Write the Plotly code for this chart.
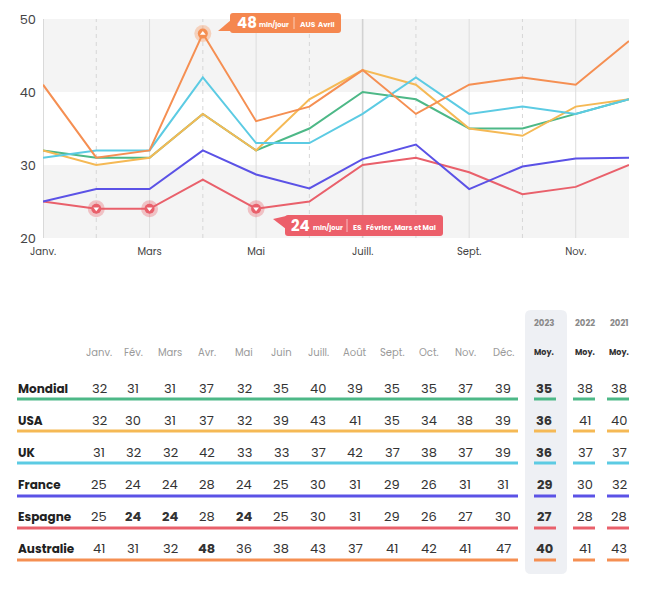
import plotly.graph_objects as go

W, H = 648, 592

# ---------------- data ----------------
months = ["Janv.", "Fév.", "Mars", "Avr.", "Mai", "Juin", "Juill.", "Août", "Sept.", "Oct.", "Nov.", "Déc."]
chart_ticks = [0, 2, 4, 6, 8, 10]
chart_tick_labels = ["Janv.", "Mars", "Mai", "Juill.", "Sept.", "Nov."]
y_ticks = [20, 30, 40, 50]

countries = ["Mondial", "USA", "UK", "France", "Espagne", "Australie"]
mondial = [32, 31, 31, 37, 32, 35, 40, 39, 35, 35, 37, 39]
usa = [32, 30, 31, 37, 32, 39, 43, 41, 35, 34, 38, 39]
uk = [31, 32, 32, 42, 33, 33, 37, 42, 37, 38, 37, 39]
france = [25, 24, 24, 28, 24, 25, 30, 31, 29, 26, 31, 31]
espagne = [25, 24, 24, 28, 24, 25, 30, 31, 29, 26, 27, 30]
australie = [41, 31, 32, 48, 36, 38, 43, 37, 41, 42, 41, 47]
# the chart's France line (as drawn, differs from the table row)
france_chart = [25, 26.7, 26.7, 32, 28.7, 26.8, 30.8, 32.8, 26.7, 29.8, 30.9, 31]

years = ["2023", "2022", "2021"]
moy_2023 = [35, 36, 36, 29, 27, 40]
moy_2022 = [38, 41, 37, 30, 28, 41]
moy_2021 = [38, 40, 37, 32, 28, 43]

colors = ["#4db887", "#f5b955", "#5ccbe3", "#5b52e6", "#e9606b", "#f58f52"]

FONT = "Poppins, 'Open Sans', sans-serif"

def px(x):
    return x / W

def py(y):
    return 1 - y / H

fig = go.Figure()

# ---------------- line chart ----------------
chart_series = [mondial, usa, uk, france_chart, espagne, australie]
order = [4, 3, 0, 1, 2, 5]
for i in order:
    fig.add_trace(go.Scatter(
        x=list(range(12)), y=chart_series[i], mode="lines",
        line=dict(color=colors[i], width=2), hoverinfo="skip", showlegend=False))

# highlighted points
es_idx = [1, 2, 4]
es_vals = [espagne[k] for k in es_idx]
fig.add_trace(go.Scatter(x=es_idx, y=es_vals, mode="markers",
                         marker=dict(size=17, color="rgba(233,96,107,0.35)"),
                         hoverinfo="skip", showlegend=False))
fig.add_trace(go.Scatter(x=es_idx, y=es_vals, mode="markers",
                         marker=dict(size=10, color="#e9606b"),
                         hoverinfo="skip", showlegend=False))
fig.add_trace(go.Scatter(x=es_idx, y=es_vals, mode="markers",
                         marker=dict(size=5, color="white", symbol="triangle-down"),
                         hoverinfo="skip", showlegend=False))
fig.add_trace(go.Scatter(x=[3], y=[australie[3]], mode="markers",
                         marker=dict(size=17, color="rgba(245,143,82,0.35)"),
                         hoverinfo="skip", showlegend=False))
fig.add_trace(go.Scatter(x=[3], y=[australie[3]], mode="markers",
                         marker=dict(size=10, color="#f58f52"),
                         hoverinfo="skip", showlegend=False))
fig.add_trace(go.Scatter(x=[3], y=[australie[3]], mode="markers",
                         marker=dict(size=5, color="white", symbol="triangle-up"),
                         hoverinfo="skip", showlegend=False))

shapes = []
# background bands
for (a, b) in [(40, 50), (20, 30)]:
    shapes.append(dict(type="rect", xref="x", yref="y", x0=0, x1=11, y0=a, y1=b,
                       fillcolor="#f4f4f4", line=dict(width=0), layer="below"))
# vertical grid lines
for k in range(11):
    if k % 2 == 0:
        strong = k in (0, 6)
        shapes.append(dict(type="line", xref="x", yref="y", x0=k, x1=k, y0=20, y1=50,
                           line=dict(color="#d2d2d2" if strong else "#dddddd",
                                     width=1.6 if strong else 1), layer="below"))
    else:
        shapes.append(dict(type="line", xref="x", yref="y", x0=k, x1=k, y0=20, y1=50,
                           line=dict(color="#d6d6d6", width=1, dash="4px,4px"), layer="below"))


def rrect(x0, y0, x1, y1, r):
    pts = [
        f"M{px(x0 + r)},{py(y0)}", f"L{px(x1 - r)},{py(y0)}",
        f"Q{px(x1)},{py(y0)} {px(x1)},{py(y0 + r)}", f"L{px(x1)},{py(y1 - r)}",
        f"Q{px(x1)},{py(y1)} {px(x1 - r)},{py(y1)}", f"L{px(x0 + r)},{py(y1)}",
        f"Q{px(x0)},{py(y1)} {px(x0)},{py(y1 - r)}", f"L{px(x0)},{py(y0 + r)}",
        f"Q{px(x0)},{py(y0)} {px(x0 + r)},{py(y0)}", "Z"]
    return " ".join(pts)


def poly(points):
    s = "M" + " L".join(f"{px(a)},{py(b)}" for a, b in points) + " Z"
    return s

# callout boxes
ORANGE = "#f5874f"
RED = "#ec5f6a"
shapes.append(dict(type="path", xref="paper", yref="paper", path=rrect(230, 13, 341, 33, 3),
                   fillcolor=ORANGE, line=dict(width=0)))
shapes.append(dict(type="path", xref="paper", yref="paper", path=poly([(231, 20), (218, 31), (231, 31)]),
                   fillcolor=ORANGE, line=dict(width=0)))
shapes.append(dict(type="line", xref="paper", yref="paper", x0=px(294), x1=px(294), y0=py(17), y1=py(29),
                   line=dict(color="rgba(255,255,255,0.6)", width=1)))

shapes.append(dict(type="path", xref="paper", yref="paper", path=rrect(285, 215, 443, 236, 3),
                   fillcolor=RED, line=dict(width=0)))
shapes.append(dict(type="path", xref="paper", yref="paper", path=poly([(286, 216), (273, 219), (286, 229)]),
                   fillcolor=RED, line=dict(width=0)))
shapes.append(dict(type="line", xref="paper", yref="paper", x0=px(347), x1=px(347), y0=py(219), y1=py(232),
                   line=dict(color="rgba(255,255,255,0.6)", width=1)))

annotations = []


def txt(x, y, text, size, color, anchor="left", bold=False):
    t = f"<b>{text}</b>" if bold else text
    annotations.append(dict(xref="paper", yref="paper", x=px(x), y=py(y), xanchor=anchor, yanchor="middle",
                            showarrow=False, text=t, font=dict(family=FONT, size=size, color=color)))


txt(235, 23, "48", 15, "white", bold=True)
txt(257, 24.5, "min/jour", 6.6, "white", bold=True)
txt(298, 24.5, "AUS", 7.5, "white", bold=True)
txt(316, 24.5, "Avril", 7, "white", bold=True)

txt(289, 225.5, "24", 15, "white", bold=True)
txt(311, 227, "min/jour", 6.6, "white", bold=True)
txt(351, 227, "ES", 7.5, "white", bold=True)
txt(364, 227, "Février, Mars et Mai", 7, "white", bold=True)

# ---------------- table ----------------
month_x = [99, 133, 170, 207, 244, 281, 318, 355, 392, 429, 465, 503]
avg_x = [544, 585, 619]
row_y = [388, 420, 452, 484, 516, 548]
line_y = [399, 431, 463, 496, 528, 560]

# 2023 column background
shapes.append(dict(type="path", xref="paper", yref="paper", path=rrect(525, 310, 567, 574, 6),
                   fillcolor="#eef0f4", line=dict(width=0), layer="below"))

for j, yr in enumerate(years):
    txt(avg_x[j], 323, yr, 8.5, "#8a8a8a", anchor="center", bold=True)
    txt(avg_x[j], 352, "Moy.", 8, "#333333", anchor="center", bold=True)
for k, m in enumerate(months):
    txt(month_x[k], 352, m, 10, "#9a9a9a", anchor="center")

table_rows = [mondial, usa, uk, france, espagne, australie]
bold_cells = {(4, 1), (4, 2), (4, 4), (5, 3)}
avg_cols = [moy_2023, moy_2022, moy_2021]
for r, name in enumerate(countries):
    txt(16, row_y[r], name, 12, "#222222", bold=True)
    for k, v in enumerate(table_rows[r]):
        txt(month_x[k], row_y[r], str(v), 13, "#333333", anchor="center", bold=(r, k) in bold_cells)
    for j in range(3):
        txt(avg_x[j], row_y[r], str(avg_cols[j][r]), 13, "#333333", anchor="center", bold=(j == 0))
    # underlines
    shapes.append(dict(type="line", xref="paper", yref="paper", x0=px(17), x1=px(518),
                       y0=py(line_y[r]), y1=py(line_y[r]), line=dict(color=colors[r], width=3)))
    for (a, b) in [(534, 556), (573, 595), (607, 629)]:
        shapes.append(dict(type="line", xref="paper", yref="paper", x0=px(a), x1=px(b),
                           y0=py(line_y[r]), y1=py(line_y[r]), line=dict(color=colors[r], width=3)))

fig.update_layout(
    width=W, height=H, margin=dict(l=0, r=0, t=0, b=0),
    paper_bgcolor="white", plot_bgcolor="white",
    showlegend=False, hovermode=False,
    shapes=shapes, annotations=annotations,
    font=dict(family=FONT),
    xaxis=dict(domain=[px(43), px(629)], range=[0, 11], showgrid=False, zeroline=False,
               tickmode="array", tickvals=chart_ticks, ticktext=chart_tick_labels,
               tickfont=dict(family=FONT, size=10, color="#444444"), ticks="", showline=False,
               ticklabelstandoff=6, automargin=False, fixedrange=True),
    yaxis=dict(domain=[py(238), py(19)], range=[20, 50], showgrid=False, zeroline=False,
               tickmode="array", tickvals=y_ticks,
               tickfont=dict(family=FONT, size=13, color="#444444"), ticks="", showline=False,
               ticklabelstandoff=6, automargin=False, fixedrange=True),
)

fig.write_html("out.html")
